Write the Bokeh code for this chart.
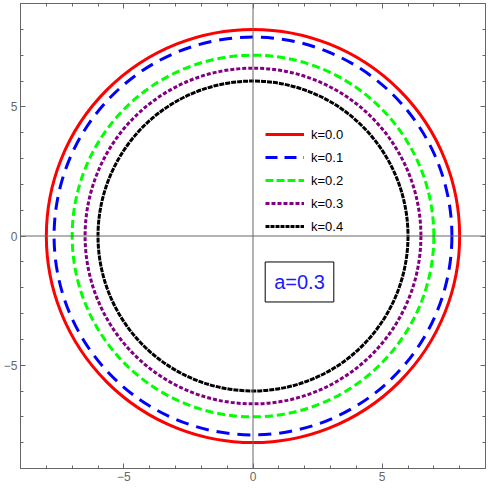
from bokeh.plotting import figure
from bokeh.models import (Range1d, LinearAxis, FixedTicker, Span, Label, Legend,
                          LegendItem, CustomJSTickFormatter)
from bokeh.embed import file_html
from bokeh.resources import INLINE

# data
k_labels = ["k=0.0", "k=0.1", "k=0.2", "k=0.3", "k=0.4"]
radii = [8.0, 7.7, 7.0, 6.5, 6.0]
colors = ["#ff0000", "#0000ff", "#00ff00", "#800080", "#000000"]
dashes = ["solid", "13 8", "8 4", "4 2", "5 1"]
legend_dashes = ["solid", "12 7", "8 3", "4 2", "4 1"]
major_ticks = [-5, 0, 5]
minor_ticks = [-9, -8, -7, -6, -4, -3, -2, -1, 1, 2, 3, 4, 6, 7, 8, 9]
tick_text = {-5: "\u22125", 0: "0", 5: "5"}
annotation = "a=0.3"
annotation_pos = (1.8, -1.78)
center = ([0], [0])

p = figure(frame_width=465, frame_height=465, x_range=Range1d(-9, 9), y_range=Range1d(-9, 9),
           output_backend="svg", toolbar_location=None,
           min_border_left=20, min_border_right=1, min_border_top=3, min_border_bottom=18,
           x_axis_location=None, y_axis_location=None)
p.grid.visible = False
p.outline_line_color = "#666666"
p.outline_line_width = 1
p.background_fill_color = "white"
p.border_fill_color = "white"

ticker = FixedTicker(ticks=major_ticks, minor_ticks=minor_ticks)
blank = CustomJSTickFormatter(code="return ''")

def style_axis(ax, labels=True):
    ax.ticker = ticker
    ax.axis_line_color = None
    ax.major_tick_in = 5
    ax.major_tick_out = 0
    ax.minor_tick_in = 3
    ax.minor_tick_out = 0
    ax.major_tick_line_color = "#666666"
    ax.minor_tick_line_color = "#666666"
    if labels:
        ax.major_label_overrides = tick_text
        ax.major_label_text_font = "Liberation Sans"
        ax.major_label_text_font_size = "12px"
        ax.major_label_text_color = "#666666"
        ax.major_label_standoff = 3
    else:
        ax.formatter = blank
        ax.major_label_standoff = 0
        ax.major_label_text_font_size = "1px"

for loc, lab in [("below", True), ("left", True), ("above", False), ("right", False)]:
    ax = LinearAxis()
    style_axis(ax, lab)
    p.add_layout(ax, loc)

p.add_layout(Span(location=0, dimension="width", line_color="#666666", line_width=1))
p.add_layout(Span(location=0, dimension="height", line_color="#666666", line_width=1))

items = []
for lab, r, c, d, ld in zip(k_labels, radii, colors, dashes, legend_dashes):
    p.circle(x=center[0], y=center[1], radius=[r], fill_color=None, line_color=c,
             line_width=3, line_dash=d)
    dummy = p.line(x=center[0], y=center[1], line_color=c, line_width=3, line_dash=ld)
    items.append(LegendItem(label=lab, renderers=[dummy]))

legend = Legend(items=items, location=(245, 232), padding=0, margin=0, spacing=3,
                glyph_width=39, glyph_height=20, label_height=20, label_standoff=7,
                label_text_font="Liberation Sans", label_text_font_size="13px",
                label_text_color="black",
                border_line_alpha=0, background_fill_alpha=0)
p.add_layout(legend, "center")

p.add_layout(Label(x=annotation_pos[0], y=annotation_pos[1], text=annotation,
                   text_align="center", text_baseline="middle",
                   text_font="Liberation Sans", text_font_size="20px",
                   text_color="#1a1aff", border_line_color="black", border_line_width=1,
                   background_fill_color="white", padding=9))

open("out.html", "w").write(file_html(p, INLINE))
